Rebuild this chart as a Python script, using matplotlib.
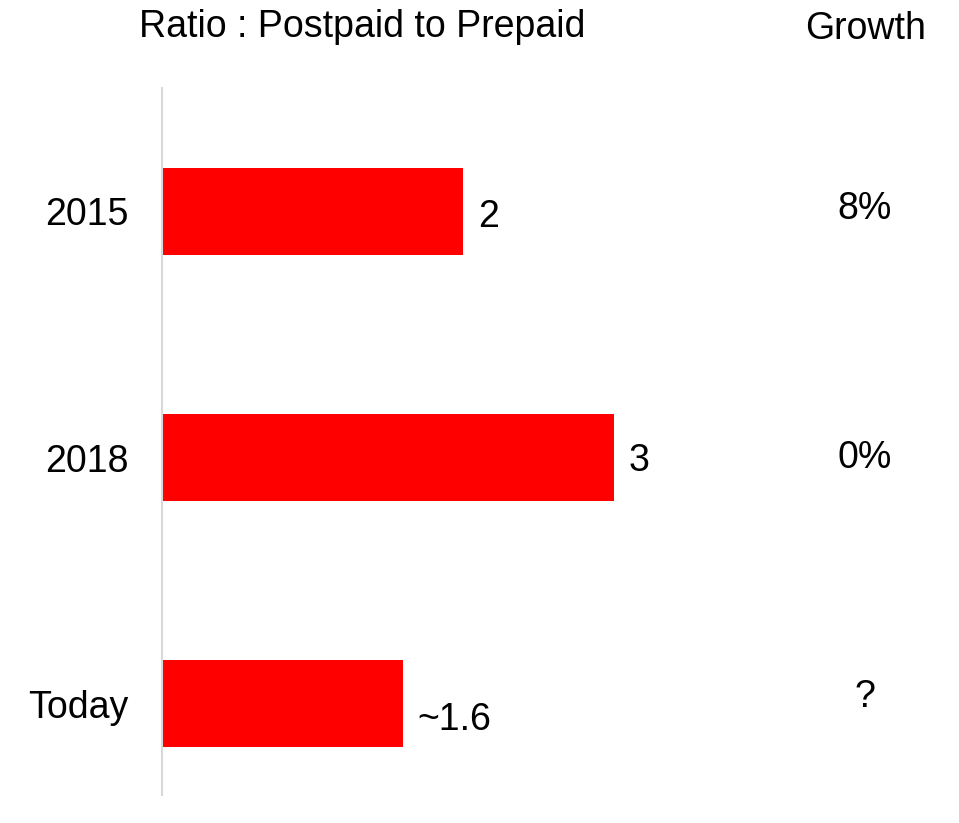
import matplotlib.pyplot as plt
from matplotlib import transforms

plt.rcParams['font.family'] = ['Liberation Sans', 'DejaVu Sans']

## Data ##

periods = ["2015", "2018", "Today"]
ratios = [2.0, 3.0, 1.6]
ratio_labels = ["2", "3", "~1.6"]
growth_labels = ["8%", "0%", "?"]

# per-label vertical nudge in pixels (the ~1.6 label sits lower in the original)
label_dy = [-6, -3, -16]
growth_dy = [2, 0, 7]

FS = 27

## Plot ##

W, H = 959, 823
fig = plt.figure(figsize=(W / 100, H / 100), dpi=100)
ax = fig.add_axes([162 / W, 1 - 795 / H, 1 - 162 / W, (795 - 88) / H])

ypos = list(range(len(periods)))
ax.barh(ypos, ratios, height=0.352, color="#ff0000")

ax.set_xlim(0, (W - 162) / 150.5)
ax.set_ylim(2.37, -0.5)
ax.set_yticks(ypos)
ax.set_yticklabels(periods, fontsize=FS)
ax.tick_params(axis="y", length=0, pad=24)
ax.set_xticks([])

for s in ["top", "right", "bottom"]:
    ax.spines[s].set_visible(False)
ax.spines["left"].set_color("#d9d9d9")
ax.spines["left"].set_linewidth(1.5)

for y, v, lab, dy in zip(ypos, ratios, ratio_labels, label_dy):
    ax.annotate(lab, (v, y), xytext=(15, dy), textcoords="offset pixels",
                ha="left", va="center", fontsize=FS)

trans = transforms.blended_transform_factory(fig.transFigure, ax.transData)
for y, lab, dy in zip(ypos, growth_labels, growth_dy):
    ax.annotate(lab, (865 / W, y), xycoords=trans, xytext=(0, dy),
                textcoords="offset pixels", ha="center", va="center",
                fontsize=FS, annotation_clip=False)

fig.text(362 / W, 1 - 27 / H, "Ratio : Postpaid to Prepaid", ha="center",
         va="center", fontsize=FS)
fig.text(866 / W, 1 - 29 / H, "Growth", ha="center", va="center", fontsize=FS)

fig.savefig("out.png", dpi=100)
